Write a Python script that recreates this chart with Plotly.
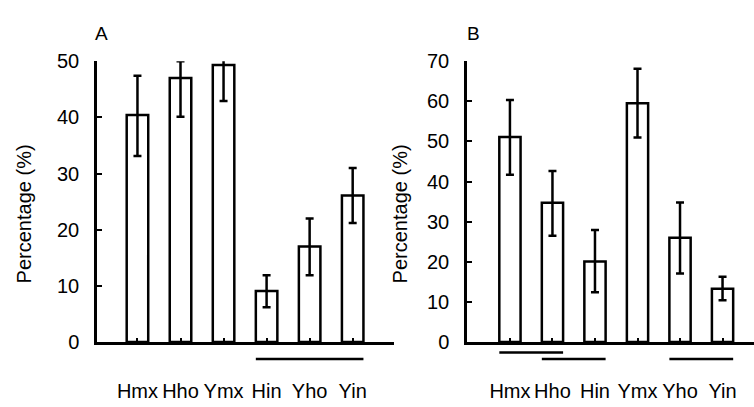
import plotly.graph_objects as go

W, H = 754, 407

# ---- data ----
cats_a = ["Hmx", "Hho", "Ymx", "Hin", "Yho", "Yin"]
vals_a = [40.4, 47.0, 49.3, 9.1, 17.0, 26.1]
err_plus_a = [7.0, 3.0, 1.2, 2.8, 5.0, 4.9]
err_minus_a = [7.3, 6.9, 6.4, 2.9, 5.1, 4.9]

cats_b = ["Hmx", "Hho", "Hin", "Ymx", "Yho", "Yin"]
vals_b = [51.1, 34.7, 20.1, 59.5, 26.0, 13.3]
err_plus_b = [9.2, 7.9, 7.8, 8.6, 8.8, 3.0]
err_minus_b = [9.4, 8.2, 7.7, 8.5, 8.9, 2.9]

# significance groupings (first index, last index, row)
groups_a = [(3, 5, 1)]
groups_b = [(0, 1, 0), (1, 2, 1), (4, 5, 1)]

yticks_a = [0, 10, 20, 30, 40, 50]
yticks_b = [0, 10, 20, 30, 40, 50, 60, 70]

FONT = "Liberation Sans, Arial, sans-serif"

# ---- layout geometry (pixels) ----
ax_x0, ax_x1 = 97, 394
bx_x0, bx_x1 = 467, 754
y_top, y_bot = 53, 350
xr_a = [-0.94, 5.96]
xr_b = [-1.01, 5.74]

fig = go.Figure()

def add_bars(cats, vals, ep, em, xa, ya):
    fig.add_trace(go.Bar(
        x=list(range(len(cats))), y=vals, width=0.5,
        marker=dict(color="white", line=dict(color="black", width=2.5)),
        error_y=dict(type="data", symmetric=False, array=ep, arrayminus=em,
                     color="black", thickness=2.5, width=4),
        xaxis=xa, yaxis=ya, showlegend=False, hoverinfo="skip"))

add_bars(cats_a, vals_a, err_plus_a, err_minus_a, "x", "y")
add_bars(cats_b, vals_b, err_plus_b, err_minus_b, "x2", "y2")

ydom = [1 - y_bot / H, 1 - y_top / H]

def xaxis(cats, x0, x1, rng):
    return dict(domain=[x0 / W, x1 / W], range=rng,
                tickmode="array", tickvals=list(range(len(cats))), ticktext=cats,
                showline=True, linecolor="black", linewidth=2.5,
                ticks="inside", ticklen=4, tickwidth=2, tickcolor="black",
                tickfont=dict(family=FONT, size=20, color="black"),
                ticklabelstandoff=29,
                showgrid=False, zeroline=False, fixedrange=True)

def yaxis(ticks, anchor):
    return dict(domain=ydom, range=[0, ticks[-1]], anchor=anchor,
                tickmode="array", tickvals=ticks,
                showline=True, linecolor="black", linewidth=2.5,
                ticks="inside", ticklen=5, tickwidth=2, tickcolor="black",
                tickfont=dict(family=FONT, size=20, color="black"),
                ticklabelstandoff=11,
                showgrid=False, zeroline=False, fixedrange=True)

fig.update_layout(
    width=W, height=H,
    margin=dict(l=0, r=0, t=0, b=0),
    paper_bgcolor="white", plot_bgcolor="white",
    xaxis=xaxis(cats_a, ax_x0, ax_x1, xr_a),
    yaxis=yaxis(yticks_a, "x"),
    xaxis2=xaxis(cats_b, bx_x0, bx_x1, xr_b) | dict(anchor="y2"),
    yaxis2=yaxis(yticks_b, "x2"),
    bargap=0.5,
)

# significance lines beneath the axes
row_y = [1 - 361 / H, 1 - 368 / H]

def to_paper(v, x0, x1, rng):
    return (x0 + (v - rng[0]) / (rng[1] - rng[0]) * (x1 - x0)) / W

for (i, j, r) in groups_a:
    fig.add_shape(type="line", xref="paper", yref="paper",
                  x0=to_paper(i - 0.25, ax_x0, ax_x1, xr_a),
                  x1=to_paper(j + 0.25, ax_x0, ax_x1, xr_a),
                  y0=row_y[r], y1=row_y[r], line=dict(color="black", width=2.5))
for (i, j, r) in groups_b:
    fig.add_shape(type="line", xref="paper", yref="paper",
                  x0=to_paper(i - 0.25, bx_x0, bx_x1, xr_b),
                  x1=to_paper(j + 0.25, bx_x0, bx_x1, xr_b),
                  y0=row_y[r], y1=row_y[r], line=dict(color="black", width=2.5))

# y titles and panel letters
for xc in (24, 400):
    fig.add_annotation(text="Percentage (%)", textangle=-90, x=xc / W, y=1 - 215 / H,
                       xref="paper", yref="paper", showarrow=False,
                       xanchor="center", yanchor="middle",
                       font=dict(family=FONT, size=20, color="black"))
for txt, xc in (("A", 101), ("B", 473)):
    fig.add_annotation(text=txt, x=xc / W, y=1 - 24 / H, xref="paper", yref="paper",
                       showarrow=False, xanchor="center", yanchor="middle",
                       font=dict(family=FONT, size=19, color="black"))

fig.write_html("out.html", config={"displayModeBar": False})
